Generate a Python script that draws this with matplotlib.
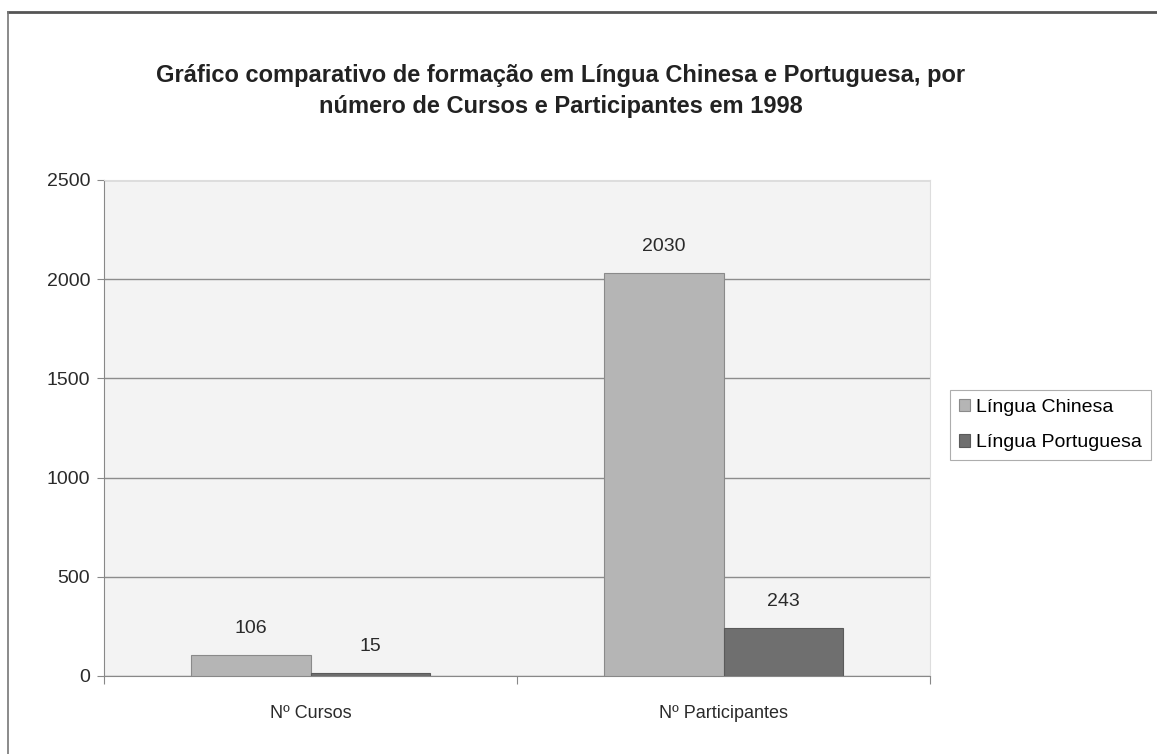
import numpy as np
import matplotlib.pyplot as plt
from matplotlib.lines import Line2D

plt.rcParams['font.family'] = ['Liberation Sans', 'DejaVu Sans']

categories = ['Nº Cursos', 'Nº Participantes']
chinesa = [106, 2030]
portuguesa = [15, 243]
series_names = ['Língua Chinesa', 'Língua Portuguesa']
title = ('Gráfico comparativo de formação em Língua Chinesa e Portuguesa, por\n'
         'número de Cursos e Participantes em 1998')

fig = plt.figure(figsize=(11.57, 7.54), dpi=100)
fig.patch.set_facecolor('white')

# outer frame (top and left edges visible in the scan)
fig.add_artist(Line2D([8/1157, 1.0], [1 - 12/754, 1 - 12/754], color='#555555', lw=2.0))
fig.add_artist(Line2D([8/1157, 8/1157], [0, 1 - 12/754], color='#777777', lw=1.2))

ax = fig.add_axes([104/1157, 78/754, 826/1157, 496/754])
ax.set_facecolor('#f3f3f3')

x = np.arange(len(categories))
w = 0.29
b1 = ax.bar(x - w/2, chinesa, w, color='#b5b5b5', edgecolor='#8a8a8a', lw=0.8,
            label=series_names[0], zorder=3)
b2 = ax.bar(x + w/2, portuguesa, w, color='#6f6f6f', edgecolor='#5a5a5a', lw=0.8,
            label=series_names[1], zorder=3)

for bars, vals in ((b1, chinesa), (b2, portuguesa)):
    for r, v in zip(bars, vals):
        ax.annotate(str(v), (r.get_x() + r.get_width()/2, v), xytext=(0, 13),
                    textcoords='offset points', ha='center', va='bottom',
                    fontsize=14, color='#2a2a2a')

ax.set_xlim(-0.5, 1.5)
ax.set_ylim(0, 2500)
ax.set_yticks(np.arange(0, 2501, 500))
ax.yaxis.grid(True, color='#8c8c8c', lw=1.0, zorder=1)
ax.tick_params(axis='y', labelsize=14, labelcolor='#2a2a2a', color='#888888',
               length=5, pad=5)

ax.set_xticks([-0.5, 0.5, 1.5])
ax.set_xticklabels([])
ax.set_xticks(x, minor=True)
ax.set_xticklabels(categories, minor=True)
ax.tick_params(axis='x', which='major', direction='out', length=6, color='#888888')
ax.tick_params(axis='x', which='minor', length=0, pad=21, labelsize=13,
               labelcolor='#2a2a2a')

for s in ('left', 'bottom'):
    ax.spines[s].set_color('#888888')
for s in ('top', 'right'):
    ax.spines[s].set_color('#dddddd')

fig.text(561/1157, 1 - 91/754, title, ha='center', va='center', fontsize=17,
         fontweight='bold', color='#222222', linespacing=1.45)

leg = fig.legend(loc='upper left', bbox_to_anchor=(950/1157, 1 - 390/754),
                 fontsize=14, frameon=True, fancybox=False, edgecolor='#999999',
                 handlelength=0.6, handleheight=0.6, handletextpad=0.3,
                 borderpad=0.45, labelspacing=0.95, borderaxespad=0)
leg.get_frame().set_linewidth(0.8)

fig.savefig('out.png', dpi=100)
